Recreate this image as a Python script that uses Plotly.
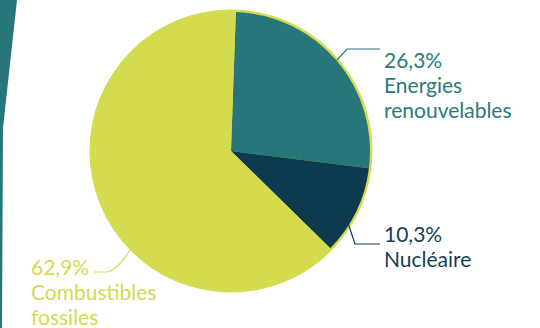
import plotly.graph_objects as go

# Energy mix shares (%)
categories = ["Energies renouvelables", "Nucléaire", "Combustibles fossiles"]
shares = [26.3, 10.3, 62.9]
label_lines = [["Energies", "renouvelables"], ["Nucléaire"], ["Combustibles", "fossiles"]]

TEAL = "#27777a"
NAVY = "#0e3a50"
YELLOW = "#d4db4f"
slice_colors = [TEAL, NAVY, YELLOW]
text_colors = ["#2a7a7b", "#173e55", "#d3da52"]

W, H = 540, 328
FS = 21
LINE_GAP = 24.7


def px(x):
    return x / W


def py(y):
    return 1 - y / H


def fmt(v):
    return f"{v:.1f}".replace(".", ",") + "%"


# pie geometry in pixels
cx, cy, r = 231, 151, 139

fig = go.Figure(
    go.Pie(
        labels=categories,
        values=shares,
        marker=dict(colors=slice_colors, line=dict(width=0)),
        sort=False,
        direction="clockwise",
        rotation=2,
        textinfo="none",
        hoverinfo="label+percent",
        showlegend=False,
        domain=dict(x=[px(cx - r), px(cx + r)], y=[py(cy + r), py(cy - r)]),
    )
)

shapes = [
    # yellow rim behind the pie
    dict(type="circle", xref="paper", yref="paper", layer="below",
         x0=px(cx - r - 2.5), x1=px(cx + r + 2.5),
         y0=py(cy + r + 2.5), y1=py(cy - r - 2.5),
         fillcolor=YELLOW, line=dict(width=0)),
    # decorative stripe on the left edge
    dict(type="path", xref="paper", yref="paper", layer="below",
         path=f"M {px(0)},{py(0)} L {px(17)},{py(0)} L {px(3)},{py(128)} "
              f"L {px(2)},{py(330)} L {px(0)},{py(330)} Z",
         fillcolor=TEAL, line=dict(width=0)),
    # leader lines
    dict(type="path", xref="paper", yref="paper",
         path=f"M {px(337)},{py(60)} L {px(347)},{py(49)} L {px(380)},{py(49)}",
         line=dict(color=TEAL, width=1.2)),
    dict(type="path", xref="paper", yref="paper",
         path=f"M {px(348)},{py(223)} L {px(355)},{py(244)} L {px(380)},{py(244)}",
         line=dict(color=NAVY, width=1.2)),
    dict(type="path", xref="paper", yref="paper",
         path=f"M {px(130)},{py(250)} Q {px(116)},{py(272)} {px(106)},{py(272)} L {px(94)},{py(272)}",
         line=dict(color=YELLOW, width=1.2)),
]

# left edge and first baseline of each label block
label_pos = [(382, 66), (382, 240), (29, 273)]
annotations = []
for v, lines, col, (x, base) in zip(shares, label_lines, text_colors, label_pos):
    for i, line in enumerate([fmt(v)] + lines):
        annotations.append(dict(
            x=px(x), y=py(base + i * LINE_GAP - 0.3 * FS), xref="paper", yref="paper",
            xanchor="left", yanchor="middle", align="left", showarrow=False,
            text=line,
            font=dict(family="Lato", size=FS, color=col),
        ))

fig.update_layout(
    width=W, height=H,
    margin=dict(l=0, r=0, t=0, b=0),
    paper_bgcolor="white",
    plot_bgcolor="white",
    shapes=shapes,
    annotations=annotations,
)

fig.write_html("out.html")
